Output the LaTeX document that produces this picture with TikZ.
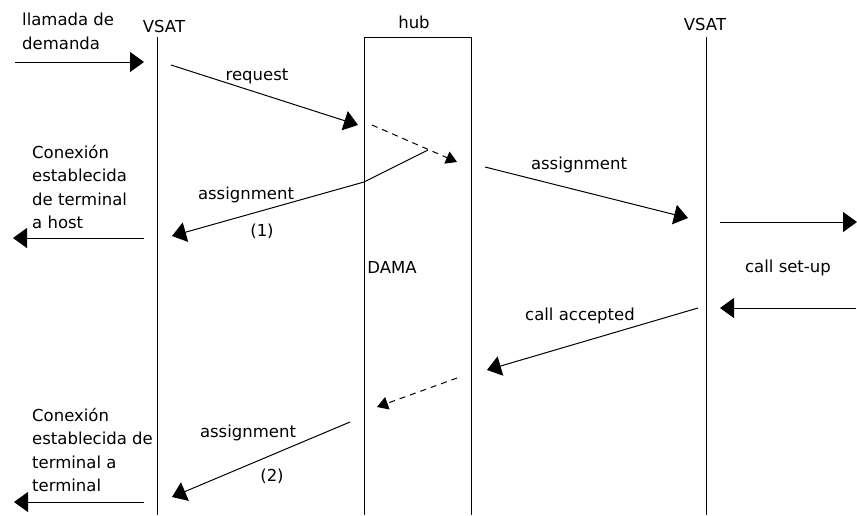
\documentclass[tikz,border=0pt]{standalone}
\usepackage{fontspec}
\setmainfont{DejaVu Sans}
\usetikzlibrary{arrows.meta}
\begin{document}
\begin{tikzpicture}[x=1pt,y=-1pt,
  lbl/.style={font=\fontsize{16.5}{23.3}\selectfont, inner sep=0pt},
  blk/.style={lbl, align=left, anchor=north west},
  msg/.style={line width=1pt, -{Triangle[length=14pt,width=20pt]}},
  relay/.style={line width=1pt, dash pattern=on 6pt off 5pt, -{Triangle[length=11pt,width=13pt]}},
  life/.style={line width=1pt}]
\useasboundingbox (0,0) rectangle (857,515);

% lifelines: left VSAT, hub box, right VSAT
\coordinate (vl-top) at (157,37);  \coordinate (vl-bot) at (157,515);
\coordinate (vr-top) at (706,37);  \coordinate (vr-bot) at (706,515);
\coordinate (hub-bl) at (364,515); \coordinate (hub-tl) at (364,37);
\coordinate (hub-tr) at (471,37);  \coordinate (hub-br) at (471,515);
\draw[life] (vl-top) -- (vl-bot);
\draw[life] (vr-top) -- (vr-bot);
\draw[life] (hub-bl) -- (hub-tl) -- (hub-tr) -- (hub-br);

% headings
\node[lbl, anchor=base] (vsatL) at (164,32) {VSAT};
\node[lbl, anchor=base] (hub) at (414,28) {hub};
\node[lbl, anchor=base] (vsatR) at (705,30) {VSAT};
\node[lbl, anchor=base] (dama) at (392,273) {DAMA};

% side texts
\node[blk] (demand) at (22,13) {llamada de\\demanda};
\node[blk] (conn1) at (32,145) {Conexión\\establecida\\de terminal\\a host};
\node[blk] (conn2) at (32,408) {Conexión\\establecida de\\terminal a\\terminal};

% message labels
\node[lbl, anchor=base] (lreq) at (257,80) {request};
\node[lbl, anchor=base] (lasg1) at (246,199) {assignment};
\node[lbl, anchor=base] (lone) at (262,236) {(1)};
\node[lbl, anchor=base] (lasgR) at (579,169) {assignment};
\node[lbl, anchor=base] (lsetup) at (788,272) {call set-up};
\node[lbl, anchor=base] (lacc) at (580,320) {call accepted};
\node[lbl, anchor=base] (lasg2) at (248,437) {assignment};
\node[lbl, anchor=base] (ltwo) at (272,481) {(2)};

% message end points
\coordinate (dm-s) at (15,62);   \coordinate (dm-e) at (144,62);
\coordinate (rq-s) at (171,65);  \coordinate (rq-e) at (358,125);
\coordinate (d1-s) at (372,125); \coordinate (d1-e) at (457,162);
\coordinate (a1-s) at (428,150); \coordinate (a1-k) at (364,182); \coordinate (a1-e) at (172,236);
\coordinate (c1-s) at (144,238); \coordinate (c1-e) at (13,238);
\coordinate (ar-s) at (485,167); \coordinate (ar-e) at (688,218);
\coordinate (su-s) at (720,222); \coordinate (su-e) at (857,222);
\coordinate (ac-s) at (856,308); \coordinate (ac-e) at (720,308);
\coordinate (ca-s) at (698,308); \coordinate (ca-e) at (487,370);
\coordinate (d2-s) at (457,378); \coordinate (d2-e) at (377,407);
\coordinate (a2-s) at (350,422); \coordinate (a2-e) at (172,497);
\coordinate (c2-s) at (144,502); \coordinate (c2-e) at (14,502);

% messages
\draw[msg] (dm-s) -- (dm-e);
\draw[msg] (rq-s) -- (rq-e);
\draw[relay] (d1-s) -- (d1-e);
\draw[msg] (a1-s) -- (a1-k) -- (a1-e);
\draw[msg] (c1-s) -- (c1-e);
\draw[msg] (ar-s) -- (ar-e);
\draw[msg] (su-s) -- (su-e);
\draw[msg] (ac-s) -- (ac-e);
\draw[msg] (ca-s) -- (ca-e);
\draw[relay] (d2-s) -- (d2-e);
\draw[msg] (a2-s) -- (a2-e);
\draw[msg] (c2-s) -- (c2-e);
\end{tikzpicture}
\end{document}
